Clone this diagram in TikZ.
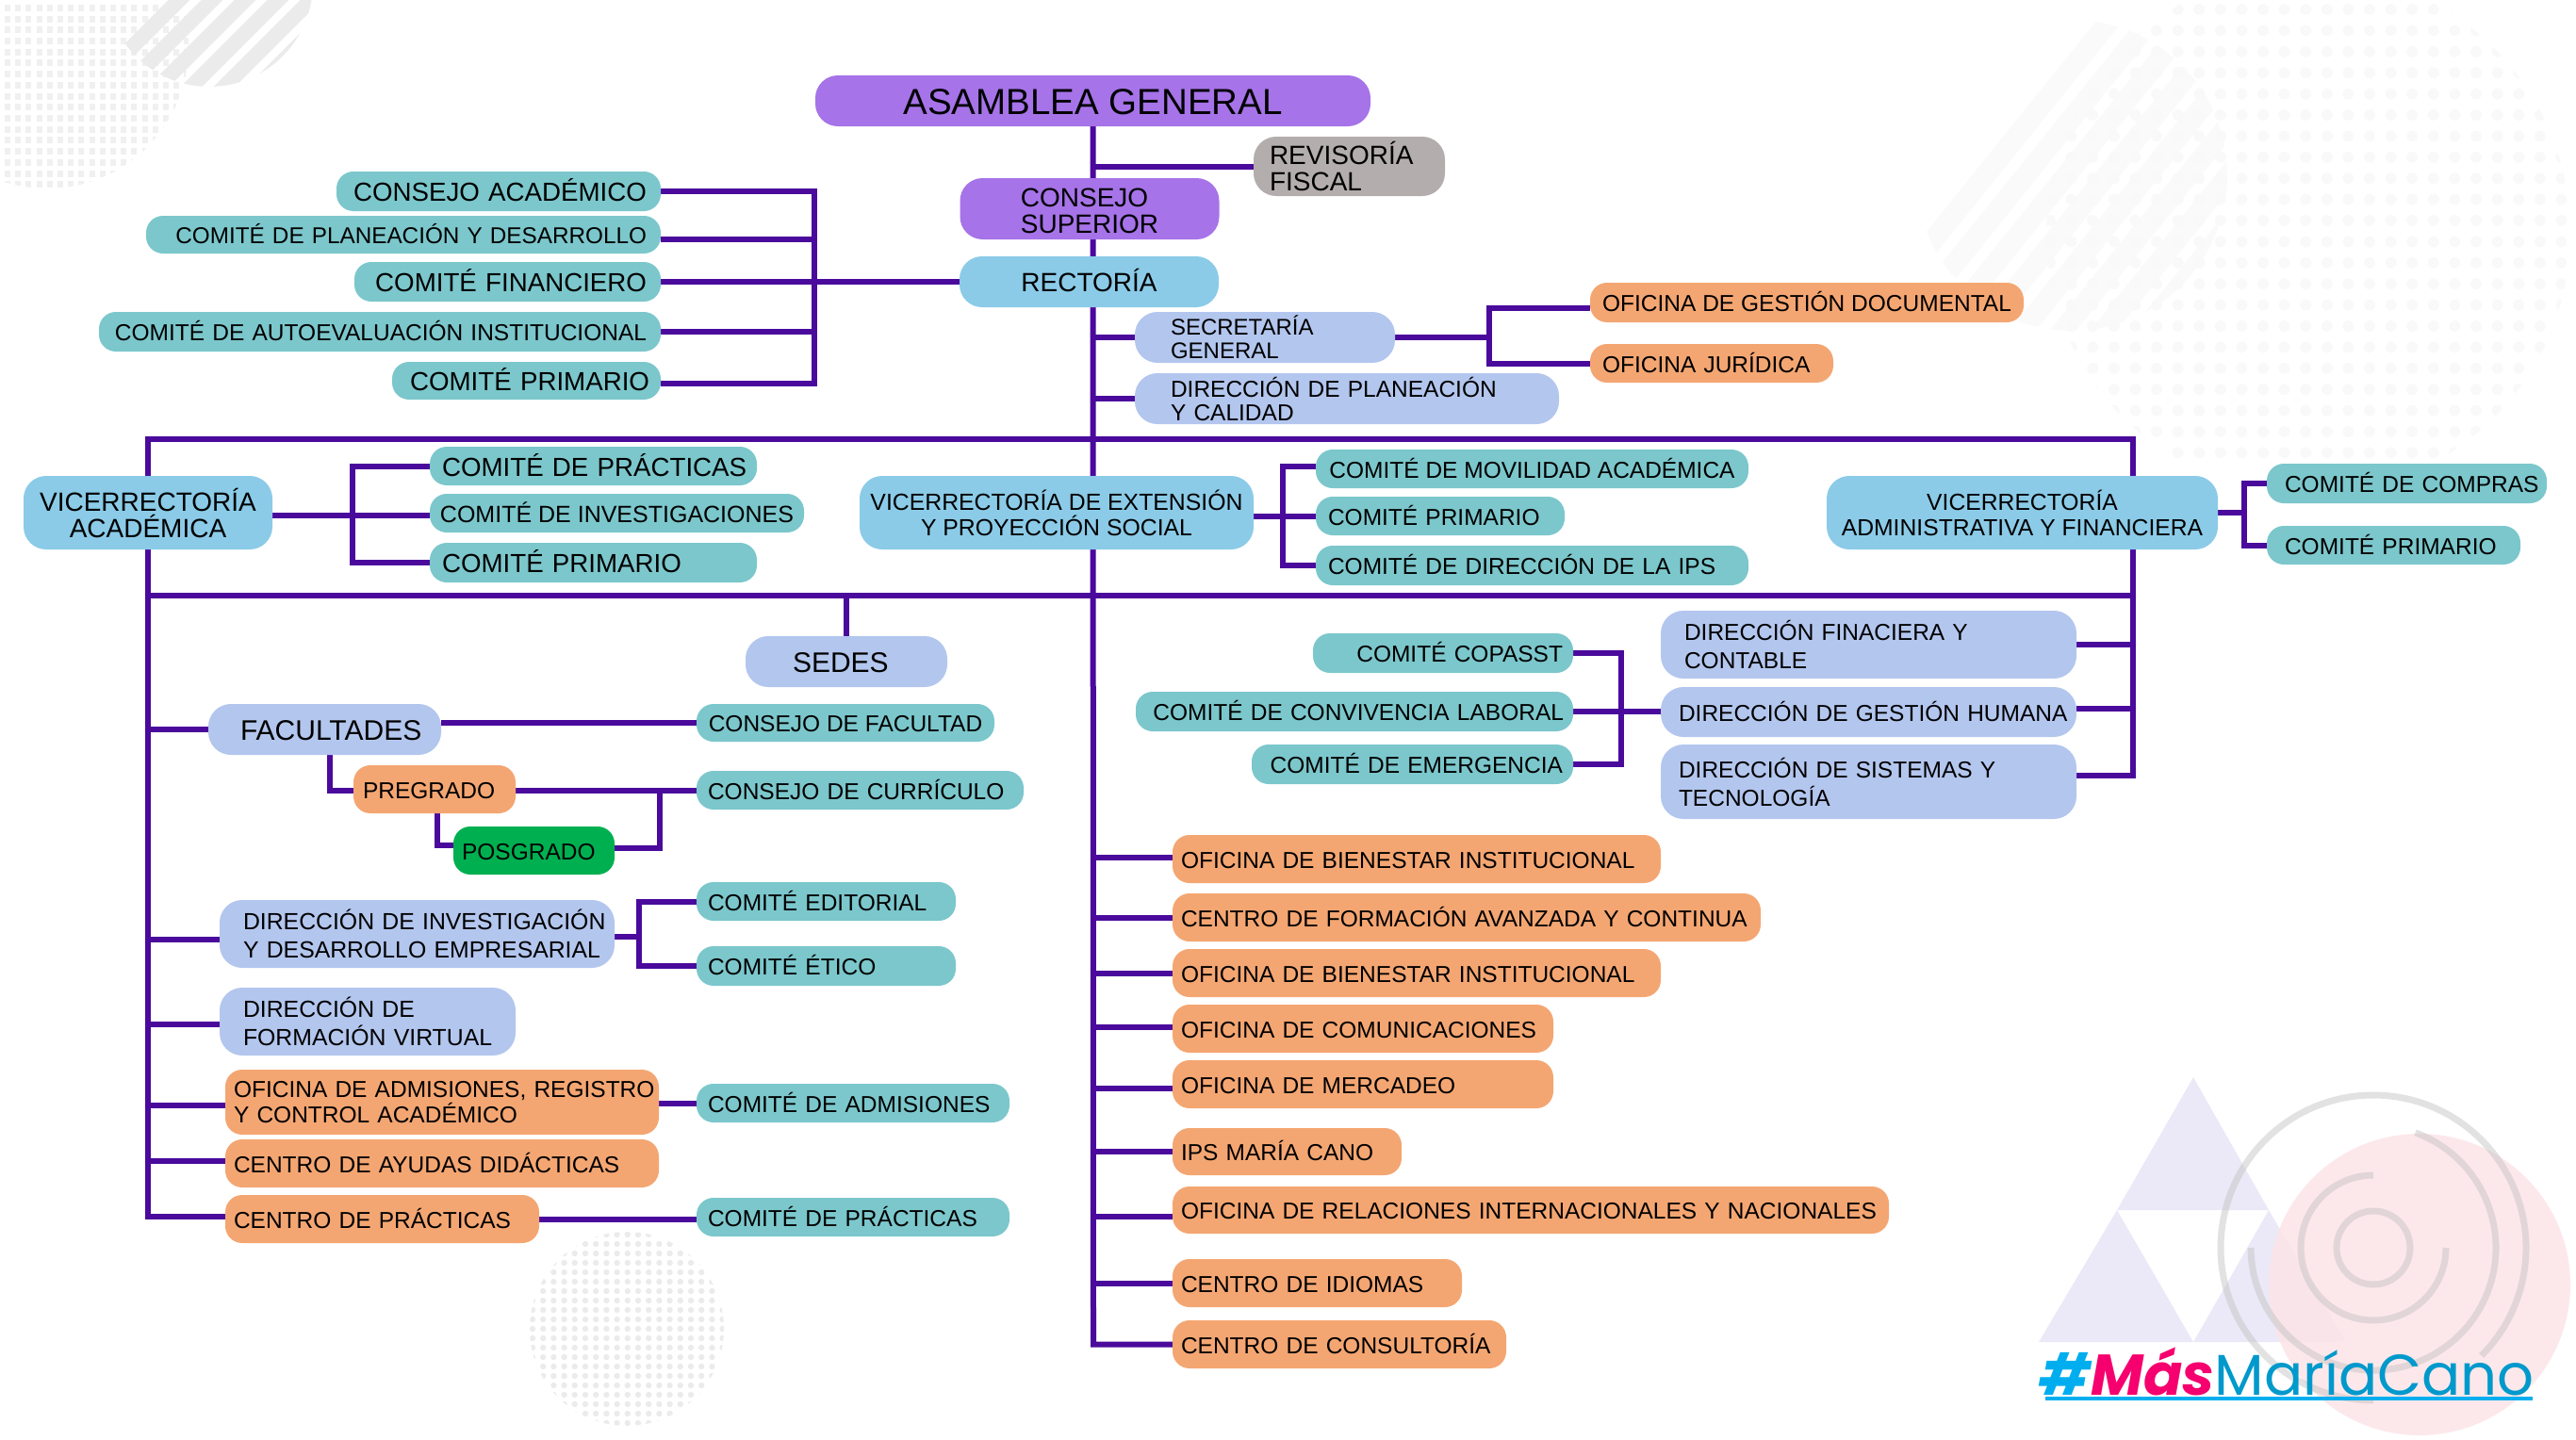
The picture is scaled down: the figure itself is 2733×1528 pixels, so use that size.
\documentclass[tikz,border=0pt]{standalone}
\usepackage{fontspec}
\setmainfont{Liberation Sans}
\newfontfamily\logofont{Poppins}
\usetikzlibrary{backgrounds}
\definecolor{linkc}{HTML}{4A0A9C}
\definecolor{purp}{HTML}{A673E8}
\definecolor{greyb}{HTML}{B3ADAE}
\definecolor{skyb}{HTML}{8BCBE8}
\definecolor{tealb}{HTML}{7BC7CC}
\definecolor{perib}{HTML}{B3C6EE}
\definecolor{orab}{HTML}{F4A672}
\definecolor{greenb}{HTML}{00B050}
\definecolor{lavd}{HTML}{EBE9F7}
\definecolor{pinkd}{HTML}{FCE4E8}
\definecolor{logoc}{HTML}{0099CC}
\definecolor{logoh}{HTML}{00AEEF}
\definecolor{logom}{HTML}{F5006E}
\newcommand{\nb}[1]{\mbox{#1}}
\tikzset{link/.style={draw=linkc,line width=6pt},
  fs/.style 2 args={font=\fontsize{#1pt}{#2pt}\selectfont,text height={.72*#1pt+1.5pt},text depth=0pt},
  two/.style={text height=,text depth=},
  panel/.style={rounded corners=18pt,inner sep=0pt,fs={24.5}{30}},
  big/.style={rounded corners=24pt},
  cbox/.style 2 args={panel,minimum width=#1pt,minimum height=#2pt,align=center},
  lbox/.style n args={3}{panel,minimum height=#2pt,text width={#1pt-2*#3pt},inner xsep=#3pt,align=left},
  rbox/.style n args={3}{panel,minimum height=#2pt,text width={#1pt-2*#3pt},inner xsep=#3pt,align=right},
  stripe/.style={line width=#1}}
\begin{document}
\begin{tikzpicture}[x=1pt,y=-1pt]
  \useasboundingbox (0,0) rectangle (2733,1528);

  \node (asam) [cbox={589}{54},fill=purp,big,fs={38.5}{40}] at (1159.5,107) {ASAMBLEA GENERAL};
  \node (revi) [lbox={203}{63}{17},fill=greyb,big,fs={28}{28},two] at (1431.5,176.5) {\nb{REVISORÍA}\\\nb{FISCAL}};
  \node (csup) [cbox={275}{65},fill=purp,big,fs={28}{28},two,align=left] at (1156,221.5) {\rule{0pt}{24pt}CONSEJO\\SUPERIOR};
  \node (rect) [cbox={275}{54},fill=skyb,big,fs={28}{30}] at (1155.5,299) {RECTORÍA};

  \node (cac) [rbox={344}{42}{15},fill=tealb,fs={27.7}{30}] at (529,203) {\nb{CONSEJO ACADÉMICO}};
  \node (cpd) [rbox={546}{40}{15},fill=tealb,fs={24.3}{30}] at (428,249) {\nb{COMITÉ DE PLANEACIÓN Y DESARROLLO}};
  \node (cfi) [rbox={325}{42}{15},fill=tealb,fs={27.7}{30}] at (538.5,299) {\nb{COMITÉ FINANCIERO}};
  \node (cau) [rbox={596}{42}{15},fill=tealb] at (403,352) {\nb{COMITÉ DE AUTOEVALUACIÓN INSTITUCIONAL}};
  \node (cpr) [rbox={285}{40}{12},fill=tealb,fs={27.7}{30}] at (558.5,404) {\nb{COMITÉ PRIMARIO}};

  \node (sec) [lbox={276}{54}{38},fill=perib,big,fs={24}{25},two] at (1342,358) {\nb{SECRETARÍA}\\\nb{GENERAL}};
  \node (dpl) [lbox={450}{54}{38},fill=perib,big,fs={24.5}{25},two] at (1429,423) {\nb{DIRECCIÓN DE PLANEACIÓN}\\\nb{Y CALIDAD}};
  \node (ofg) [cbox={460}{42},fill=orab] at (1917,321) {OFICINA DE GESTIÓN DOCUMENTAL};
  \node (ofj) [lbox={258}{41}{13},fill=orab] at (1816,385.5) {\nb{OFICINA JURÍDICA}};

  \node (vac) [cbox={264}{78},fill=skyb,big,fs={28}{28},two] at (157,544) {VICERRECTORÍA\\ACADÉMICA};
  \node (cpa) [lbox={347}{41}{13},fill=tealb,fs={27.7}{30}] at (629.5,494.5) {\nb{COMITÉ DE PRÁCTICAS}};
  \node (cin) [cbox={397}{41},fill=tealb,fs={25}{30}] at (654.5,544.5) {COMITÉ DE INVESTIGACIONES};
  \node (cpv) [lbox={347}{42}{13},fill=tealb,fs={27.7}{30}] at (629.5,597) {\nb{COMITÉ PRIMARIO}};

  \node (vex) [cbox={418}{78},fill=skyb,big,fs={24.8}{27},two] at (1121,544) {VICERRECTORÍA DE EXTENSIÓN\\Y PROYECCIÓN SOCIAL};
  \node (cmo) [cbox={459}{41},fill=tealb] at (1625.5,497.5) {COMITÉ DE MOVILIDAD ACADÉMICA};
  \node (cpe) [lbox={264}{41}{13},fill=tealb] at (1528,547.5) {\nb{COMITÉ PRIMARIO}};
  \node (cip) [lbox={459}{42}{13},fill=tealb] at (1625.5,600) {\nb{COMITÉ DE DIRECCIÓN DE LA IPS}};

  \node (vad) [cbox={415}{78},fill=skyb,big,fs={24.7}{27},two] at (2145.5,544) {VICERRECTORÍA\\ADMINISTRATIVA Y FINANCIERA};
  \node (cco) [lbox={297}{42}{19},fill=tealb] at (2553.5,513) {\nb{COMITÉ DE COMPRAS}};
  \node (cpu) [lbox={269}{41}{19},fill=tealb] at (2539.5,578.5) {\nb{COMITÉ PRIMARIO}};

  \node (sed) [lbox={214}{54}{50},fill=perib,big,fs={30}{30}] at (898,702) {\nb{SEDES}};
  \node (fac) [lbox={247}{54}{34},fill=perib,big,fs={30}{30}] at (344.5,774) {\nb{FACULTADES}};
  \node (cfa) [cbox={316}{40},fill=tealb] at (897,767) {CONSEJO DE FACULTAD};
  \node (ccu) [lbox={347}{41}{12},fill=tealb] at (912.5,838.5) {\nb{CONSEJO DE CURRÍCULO}};
  \node (pre) [lbox={172}{51}{10},fill=orab] at (461,837.5) {\nb{PREGRADO}};
  \node (pos) [lbox={171}{51}{9},fill=greenb] at (566.5,902.5) {\nb{POSGRADO}};

  \node (dinv) [lbox={419}{72}{25},fill=perib,big,fs={24.8}{30},two] at (442.5,991) {\nb{DIRECCIÓN DE INVESTIGACIÓN}\\\nb{Y DESARROLLO EMPRESARIAL}};
  \node (ced) [lbox={275}{41}{12},fill=tealb] at (876.5,956.5) {\nb{COMITÉ EDITORIAL}};
  \node (cet) [lbox={275}{42}{12},fill=tealb] at (876.5,1025) {\nb{COMITÉ ÉTICO}};
  \node (dfo) [lbox={314}{72}{25},fill=perib,big,fs={24.8}{30},two] at (390,1084) {\nb{DIRECCIÓN DE}\\\nb{FORMACIÓN VIRTUAL}};
  \node (oad) [lbox={460}{69}{9},fill=orab,fs={24.5}{27},two] at (469,1169.5) {\nb{OFICINA DE ADMISIONES, REGISTRO}\\\nb{Y CONTROL ACADÉMICO}};
  \node (cad) [lbox={332}{41}{12},fill=tealb] at (905,1170.5) {\nb{COMITÉ DE ADMISIONES}};
  \node (oay) [lbox={460}{51}{9},fill=orab] at (469,1234.5) {\nb{CENTRO DE AYUDAS DIDÁCTICAS}};
  \node (cpc) [lbox={333}{51}{9},fill=orab] at (405.5,1293.5) {\nb{CENTRO DE PRÁCTICAS}};
  \node (cpb) [lbox={332}{41}{12},fill=tealb] at (905,1291.5) {\nb{COMITÉ DE PRÁCTICAS}};

  \node (cop) [rbox={276}{42}{11},fill=tealb] at (1531,693) {\nb{COMITÉ COPASST}};
  \node (ccl) [rbox={464}{42}{10},fill=tealb] at (1437,755) {\nb{COMITÉ DE CONVIVENCIA LABORAL}};
  \node (cem) [rbox={341}{42}{11},fill=tealb] at (1498.5,811) {\nb{COMITÉ DE EMERGENCIA}};
  \node (dfi) [lbox={441}{72}{25},fill=perib,big,fs={24.5}{30},two] at (1982.5,684) {\nb{DIRECCIÓN FINACIERA Y}\\\nb{CONTABLE}};
  \node (dgh) [lbox={441}{53}{19},fill=perib,big] at (1982.5,755.5) {\nb{DIRECCIÓN DE GESTIÓN HUMANA}};
  \node (dsi) [lbox={441}{79}{19},fill=perib,big,fs={24.5}{30},two] at (1982.5,829.5) {\nb{DIRECCIÓN DE SISTEMAS Y}\\\nb{TECNOLOGÍA}};

  \node (obi) [lbox={518}{51}{9},fill=orab] at (1503,911.5) {\nb{OFICINA DE BIENESTAR INSTITUCIONAL}};
  \node (ofo) [lbox={624}{51}{9},fill=orab] at (1556,973.5) {\nb{CENTRO DE FORMACIÓN AVANZADA Y CONTINUA}};
  \node (obn) [lbox={518}{51}{9},fill=orab] at (1503,1032.5) {\nb{OFICINA DE BIENESTAR INSTITUCIONAL}};
  \node (oco) [lbox={404}{51}{9},fill=orab] at (1446,1091.5) {\nb{OFICINA DE COMUNICACIONES}};
  \node (ome) [lbox={404}{51}{9},fill=orab] at (1446,1150.5) {\nb{OFICINA DE MERCADEO}};
  \node (ips) [lbox={243}{50}{9},fill=orab] at (1365.5,1222) {\nb{IPS MARÍA CANO}};
  \node (ore) [lbox={760}{50}{9},fill=orab] at (1624,1284) {\nb{OFICINA DE RELACIONES INTERNACIONALES Y NACIONALES}};
  \node (oid) [lbox={307}{51}{9},fill=orab] at (1397.5,1361.5) {\nb{CENTRO DE IDIOMAS}};
  \node (oct) [lbox={354}{51}{9},fill=orab] at (1421,1426.5) {\nb{CENTRO DE CONSULTORÍA}};

  \node (logo) [anchor=base west,inner sep=0pt,font=\logofont\fontsize{61pt}{61pt}\selectfont,text=logoc] at (2163,1480)
    {\textcolor{logoh}{\itshape\bfseries\#}\textcolor{logom}{\itshape\bfseries Más}MaríaCano};

  \coordinate (spine) at (1160,0);
  \coordinate (railL) at (157,0);
  \coordinate (railR) at (2263,0);
  \coordinate (topl) at (157,466);
  \coordinate (topr) at (2263,466);
  \coordinate (midl) at (157,632);
  \coordinate (midr) at (2263,632);
  \coordinate (brkA) at (864,0);
  \coordinate (brkS) at (1580,0);
  \coordinate (brkV) at (374,0);
  \coordinate (brkE) at (1361,0);
  \coordinate (brkD) at (2381,0);
  \coordinate (brkC) at (1720,0);
  \coordinate (brkP) at (700,0);
  \coordinate (brkI) at (678,0);

  \begin{scope}[on background layer]
    \begin{scope}
      \clip (50,50) circle [radius=150];
      \foreach \i in {0,...,17} \foreach \j in {0,...,17}
        \fill [black!6] (5+11.2*\i,5+11.7*\j) rectangle +(6,7);
    \end{scope}
    \begin{scope}
      \clip (222,-18) circle [radius=110];
      \foreach \i in {0,...,13}
        \draw [black!8,stripe=16pt] (60+35*\i,130) -- +(160,-160);
    \end{scope}
    \begin{scope}
      \clip (2198,186) circle [radius=165];
      \foreach \i in {0,...,16}
        \draw [black!2,stripe=22pt] (1950+43*\i,380) -- +(290,-360);
    \end{scope}
    \begin{scope}
      \clip (2449,247) circle [radius=278];
      \foreach \i in {0,...,24} \foreach \j in {0,...,21}
        \fill [black!2.5] (2175+22.6*\i,10+22.4*\j) circle [radius=6];
    \end{scope}
    \begin{scope}
      \clip (665,1410) circle [radius=103];
      \foreach \i in {0,...,18} \foreach \j in {0,...,20}
        \fill [black!8] (565+11.2*\i,1310+10*\j) circle [radius=3.2];
    \end{scope}
    \fill [lavd] (2327,1143) -- (2407,1284) -- (2246,1284) -- cycle;
    \fill [lavd] (2246,1284) -- (2327,1424) -- (2163,1424) -- cycle;
    \fill [lavd] (2407,1284) -- (2489,1424) -- (2327,1424) -- cycle;
    \fill [pinkd,opacity=.85] (2567,1363) circle [radius=160];
    \begin{scope}[shift={(2518,1324)},draw=black!25,opacity=.45,line width=7pt]
      \draw (0,0) circle [radius=39];
      \draw (90:77pt) arc [start angle=90,end angle=360,radius=77pt];
      \draw (70:130pt) arc [start angle=70,end angle=-180,radius=130pt];
      \draw (-45:162pt) arc [start angle=-45,end angle=270,radius=162pt];
    \end{scope}
    \fill [logoh] (2170,1482) rectangle (2687,1486);

    \draw [link] (asam) -- (spine |- oct) -- (oct);
    \draw [link] (spine |- revi) -- (revi);
    \draw [link] (spine |- sec) -- (sec);
    \draw [link] (spine |- dpl) -- (dpl);

    \draw [link] (cac) -- (brkA |- cac) -- ([yshift=-3pt]brkA |- cpr) -- ([yshift=-3pt]cpr.east);
    \draw [link] ([yshift=-5pt]cpd.east) -- ([yshift=-5pt]brkA |- cpd);
    \draw [link] (cau) -- (brkA |- cau);
    \draw [link] (cfi) -- (rect);

    \draw [link] (sec) -- (brkS |- sec);
    \draw [link] ([yshift=-6pt]ofg.west) -- ([yshift=-6pt]brkS |- ofg) -- (brkS |- ofj) -- (ofj);

    \draw [link] (vac) -- (topl) -- (topr) -- ([yshift=6.5pt]railR |- dsi) -- ([yshift=6.5pt]dsi.east);
    \draw [link] (midl) -- (midr);
    \draw [link] (vac) -- ([yshift=2.5pt]railL |- cpc) -- ([yshift=2.5pt]cpc.west);

    \draw [link] ([yshift=-3pt]vac.east) -- ([yshift=-3pt]vac.east -| cin.west);
    \draw [link] (cpa) -- (brkV |- cpa) -- (brkV |- cpv) -- (cpv);
    \draw [link] ([yshift=-4pt]vex.east) -- ([yshift=-4pt]vex.east -| cpe.west);
    \draw [link] ([yshift=3pt]cmo.west) -- ([yshift=3pt]brkE |- cmo) -- (brkE |- cip) -- (cip);
    \draw [link] (vad) -- (vad.east -| brkD);
    \draw [link] (cco) -- (brkD |- cco) -- (brkD |- cpu) -- (cpu);

    \draw [link] (sed) -- (sed |- midl);
    \draw [link] (cop) -- (brkC |- cop) -- (brkC |- cem) -- (cem);
    \draw [link] (ccl) -- (ccl -| dgh.west);
    \draw [link] (dfi) -- (railR |- dfi);
    \draw [link] ([yshift=4pt]dgh.east) -- ([yshift=4pt]railR |- dgh);

    \draw [link] (railL |- fac) -- (fac);
    \draw [link] (fac.east |- cfa) -- (cfa);
    \draw [link] ([xshift=5pt]fac.south) |- ([yshift=-1.5pt]pre.west);
    \draw [link] ([yshift=-1.5pt]pre.east) -- ([yshift=-1.5pt]pre.east -| ccu.west);
    \draw [link] ([xshift=3pt]pre.south) |- ([yshift=5.5pt]pos.west);
    \draw [link] ([yshift=2.5pt]pos.east) -- ([yshift=2.5pt]brkP |- pos) -- (brkP |- ccu);

    \draw [link] ([yshift=-6pt]railL |- dinv) -- ([yshift=-6pt]dinv.west);
    \draw [link] ([yshift=-3pt]dinv.east) -- ([yshift=-3pt]brkI |- dinv);
    \draw [link] (ced) -- (brkI |- ced) -- (brkI |- cet) -- (cet);
    \draw [link] ([yshift=-3pt]railL |- dfo) -- ([yshift=-3pt]dfo.west);
    \draw [link] ([yshift=-3.5pt]railL |- oad) -- ([yshift=-3.5pt]oad.west);
    \draw [link] (oad.east |- cad) -- (cad);
    \draw [link] ([yshift=2.5pt]railL |- oay) -- ([yshift=2.5pt]oay.west);
    \draw [link] (cpc.east) -- (cpc.east -| cpb.west);

    \draw [link] ([yshift=1.5pt]spine |- obi) -- ([yshift=1.5pt]obi.west);
    \draw [link] (spine |- ofo) -- (ofo);
    \draw [link] (spine |- obn) -- (obn);
    \draw [link] ([yshift=1.5pt]spine |- oco) -- ([yshift=1.5pt]oco.west);
    \draw [link] ([yshift=-4.5pt]spine |- ome) -- ([yshift=-4.5pt]ome.west);
    \draw [link] (spine |- ips) -- (ips);
    \draw [link] ([yshift=-7pt]spine |- ore) -- ([yshift=-7pt]ore.west);
    \draw [link] (spine |- oid) -- (oid);
  \end{scope}
\end{tikzpicture}
\end{document}
